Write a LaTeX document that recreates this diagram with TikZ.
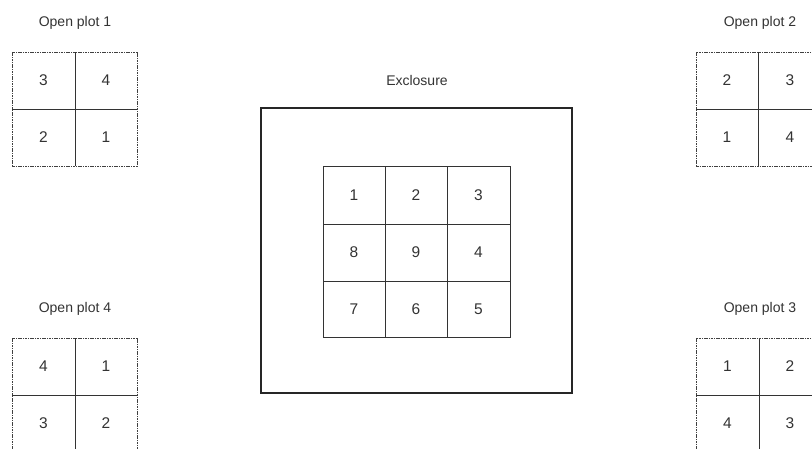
\documentclass[tikz,border=0pt]{standalone}
\usepackage{fontspec}
\setmainfont{Liberation Sans}
\begin{document}
\begin{tikzpicture}[x=1pt,y=-1pt,
  lbl/.style={font=\fontsize{14}{16}\selectfont, text=black!80, inner sep=0pt},
  num/.style={font=\fontsize{15.5}{18}\selectfont, text=black!80, inner sep=0pt},
  frame/.style={draw=black!75, line width=0.9pt, dash pattern=on 1.6pt off 0.8pt},
  divider/.style={draw=black!80, line width=1pt},
  outerbox/.style={draw=black!85, line width=2pt},
  gridline/.style={draw=black!80, line width=1pt}]
\useasboundingbox (0,0) rectangle (812,448);
\fill[white] (0,0) rectangle (812,448);

% Open plot 1
\node[lbl] (l1) at (75,23) {Open plot 1};
\draw[divider] (75,52) -- (75,166) (12,109) -- (137,109);
\draw[frame] (12,52) rectangle (137,166);
\node[num] (p1a) at (43.5,80.5) {3};
\node[num] (p1b) at (106,80.5) {4};
\node[num] (p1c) at (43.5,137.5) {2};
\node[num] (p1d) at (106,137.5) {1};

% Open plot 2
\node[lbl] (l2) at (760,23) {Open plot 2};
\draw[divider] (758,52) -- (758,166) (696,109) -- (822,109);
\draw[frame] (696,52) rectangle (822,166);
\node[num] (p2a) at (727,80.5) {2};
\node[num] (p2b) at (790,80.5) {3};
\node[num] (p2c) at (727,137.5) {1};
\node[num] (p2d) at (790,137.5) {4};

% Open plot 4
\node[lbl] (l4) at (75,309) {Open plot 4};
\draw[divider] (75,338) -- (75,452) (12,395) -- (137,395);
\draw[frame] (12,338) rectangle (137,452);
\node[num] (p4a) at (43.5,366.5) {4};
\node[num] (p4b) at (106,366.5) {1};
\node[num] (p4c) at (43.5,423.5) {3};
\node[num] (p4d) at (106,423.5) {2};

% Open plot 3
\node[lbl] (l3) at (760,309) {Open plot 3};
\draw[divider] (759,338) -- (759,452) (696,395) -- (822,395);
\draw[frame] (696,338) rectangle (822,452);
\node[num] (p3a) at (727.5,366.5) {1};
\node[num] (p3b) at (790,366.5) {2};
\node[num] (p3c) at (727.5,423.5) {4};
\node[num] (p3d) at (790,423.5) {3};

% Exclosure
\node[lbl] (ex) at (417,80) {Exclosure};
\draw[outerbox] (261,108) rectangle (572,393);
\draw[gridline] (323,166) rectangle (510,337);
\draw[gridline] (385,166) -- (385,337) (447,166) -- (447,337)
                (323,224) -- (510,224) (323,281) -- (510,281);
\node[num] (e1) at (354,195) {1};
\node[num] (e2) at (416,195) {2};
\node[num] (e3) at (478.5,195) {3};
\node[num] (e8) at (354,252.5) {8};
\node[num] (e9) at (416,252.5) {9};
\node[num] (e4) at (478.5,252.5) {4};
\node[num] (e7) at (354,309) {7};
\node[num] (e6) at (416,309) {6};
\node[num] (e5) at (478.5,309) {5};
\end{tikzpicture}
\end{document}
